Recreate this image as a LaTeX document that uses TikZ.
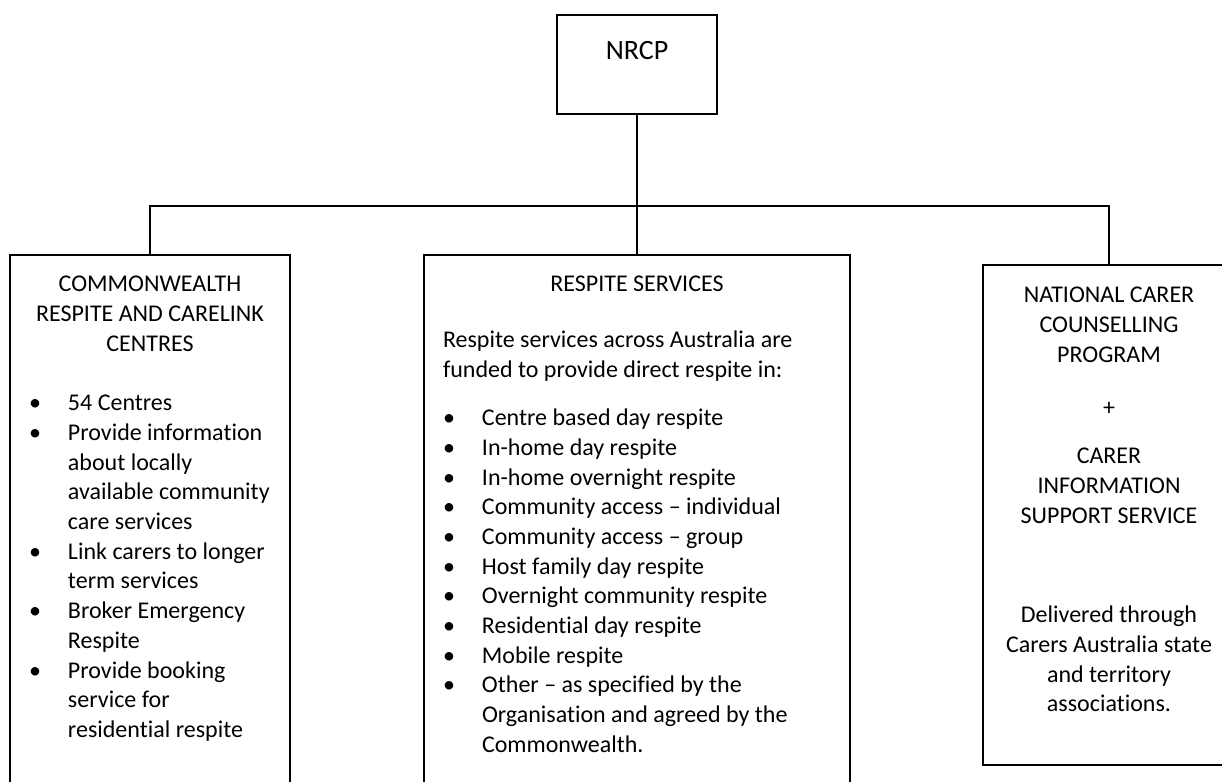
\documentclass[tikz,border=0pt]{standalone}
\usepackage{fontspec}
\setmainfont{Carlito}[Ligatures=CommonOff]
\newcommand{\itm}[1]{\par\hspace*{12.5pt}\makebox[0pt]{\textbullet}\hspace*{16.5pt}#1}
\newcommand{\cnt}[1]{\par\hspace*{29pt}#1}
\tikzset{
  box/.style={draw, line width=0.9pt, inner sep=0pt, anchor=north, font=\fontsize{12pt}{14.85pt}\selectfont},
  top/.style={box, minimum width=80pt, text height=22.5pt, text depth=27pt, font=\fontsize{14pt}{17pt}\selectfont},
  lnk/.style={line width=0.7pt},
}
\begin{document}
\begin{tikzpicture}[x=0.5pt, y=0.5pt]
  \useasboundingbox (0,0) rectangle (1222,-782);
  \clip (0,0) rectangle (1222,-782);
  \node[top] (nrcp) at (637,-14) {NRCP};
  \node[box] (crc) at (150,-254) {\parbox[t][280pt][t]{140pt}{\centering\rule{0pt}{18.5pt}COMMONWEALTH\\RESPITE AND CARELINK\\CENTRES\par
    \vspace{14.85pt}\raggedright
    \itm{54 Centres}
    \itm{Provide information}
    \cnt{about locally}
    \cnt{available community}
    \cnt{care services}
    \itm{Link carers to longer}
    \cnt{term services}
    \itm{Broker Emergency}
    \cnt{Respite}
    \itm{Provide booking}
    \cnt{service for}
    \cnt{residential respite}}};
  \node[box] (rs) at (637,-254) {\parbox[t][280pt][t]{213pt}{\centering\rule{0pt}{18.5pt}RESPITE SERVICES\par
    \vspace{13.15pt}\raggedright
    \hspace*{9.5pt}Respite services across Australia are\par
    \hspace*{9.5pt}funded to provide direct respite in:\par
    \vspace{9.15pt}
    \itm{Centre based day respite}
    \itm{In-home day respite}
    \itm{In-home overnight respite}
    \itm{Community access – individual}
    \itm{Community access – group}
    \itm{Host family day respite}
    \itm{Overnight community respite}
    \itm{Residential day respite}
    \itm{Mobile respite}
    \itm{Other – as specified by the}
    \cnt{Organisation and agreed by the}
    \cnt{Commonwealth.}}};
  \node[box] (ncc) at (1109,-264) {\parbox[t][250pt][t]{126pt}{\centering\rule{0pt}{18.85pt}NATIONAL CARER\\COUNSELLING\\PROGRAM\\[12.1pt]+\\[9.15pt]CARER\\INFORMATION\\SUPPORT SERVICE\\[34.8pt]Delivered through\\Carers Australia state\\and territory\\associations.}};
  \coordinate (bus) at (637,-206);
  \draw[lnk] (nrcp.south) -- (rs.north);
  \draw[lnk] (crc.north) |- (bus) -| (ncc.north);
\end{tikzpicture}
\end{document}
